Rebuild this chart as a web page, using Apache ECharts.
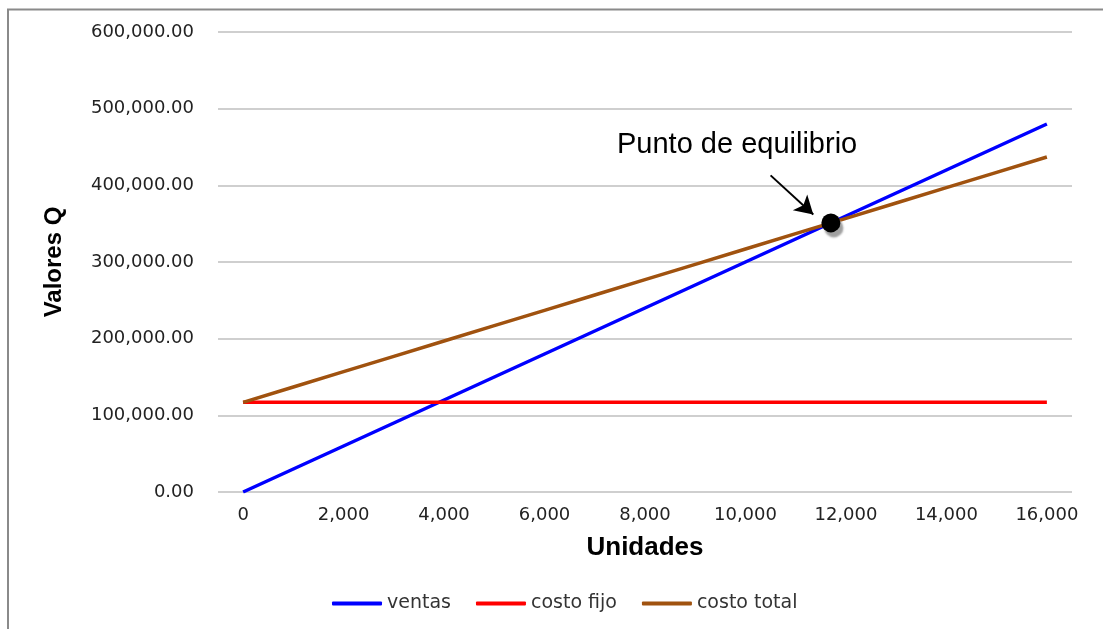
<!DOCTYPE html>
<html>
<head>
<meta charset="utf-8">
<script src="https://cdn.jsdelivr.net/npm/echarts@6/dist/echarts.min.js"></script>
<style>
  html, body { margin: 0; padding: 0; background: #ffffff; }
  #chart { width: 1103px; height: 629px; }
</style>
</head>
<body>
<div id="chart"></div>
<script>
// Units produced (category axis, every 1,000 units)
const unidades = [0, 1000, 2000, 3000, 4000, 5000, 6000, 7000, 8000, 9000, 10000,
                  11000, 12000, 13000, 14000, 15000, 16000];
// Sales revenue
const ventas = [0, 30000, 60000, 90000, 120000, 150000, 180000, 210000, 240000, 270000,
                300000, 330000, 360000, 390000, 420000, 450000, 480000];
// Fixed cost
const costoFijo = [117000, 117000, 117000, 117000, 117000, 117000, 117000, 117000, 117000,
                   117000, 117000, 117000, 117000, 117000, 117000, 117000, 117000];
// Total cost
const costoTotal = [117000, 137000, 157000, 177000, 197000, 217000, 237000, 257000, 277000,
                    297000, 317000, 337000, 357000, 377000, 397000, 417000, 437000];
// Break-even point [units, value]
const puntoEquilibrio = [11700, 351000];
// Annotation arrow, from label towards the break-even point
const flechaInicio = [10500, 413000];
const flechaFin = [11350, 362000];

const fmtMiles = v => Number(v).toLocaleString('en-US');
const fmtValor = v => Number(v).toLocaleString('en-US', { minimumFractionDigits: 2, maximumFractionDigits: 2 });

const chart = echarts.init(document.getElementById('chart'), null, { renderer: 'canvas' });

chart.setOption({
  backgroundColor: '#ffffff',
  animation: false,
  grid: { left: 218, right: 31, top: 32, bottom: 137, containLabel: false },
  legend: {
    bottom: 11,
    left: 327,
    icon: 'roundRect',
    itemWidth: 50,
    itemHeight: 4,
    itemGap: 25,
    textStyle: { fontFamily: 'DejaVu Sans', fontSize: 19, color: '#333333' },
    data: ['ventas', 'costo fijo', 'costo total']
  },
  xAxis: [
    {
      type: 'category',
      data: unidades,
      boundaryGap: true,
      name: 'Unidades',
      nameLocation: 'middle',
      nameGap: 43,
      nameTextStyle: { fontFamily: 'Liberation Sans', fontWeight: 'bold', fontSize: 26, color: '#000000' },
      axisLine: { show: false },
      axisTick: { show: false },
      splitLine: { show: false },
      axisLabel: {
        interval: 1,
        margin: 14,
        fontFamily: 'DejaVu Sans',
        fontSize: 18,
        color: '#222222',
        formatter: v => fmtMiles(v)
      }
    },
    {
      type: 'value',
      min: -500,
      max: 16500,
      show: false
    }
  ],
  yAxis: {
    type: 'value',
    min: 0,
    max: 600000,
    interval: 100000,
    name: 'Valores Q',
    nameLocation: 'middle',
    nameRotate: 90,
    nameGap: 152,
    nameTextStyle: { fontFamily: 'Liberation Sans', fontWeight: 'bold', fontSize: 24, color: '#000000' },
    axisLine: { show: false },
    axisTick: { show: false },
    splitLine: { lineStyle: { color: '#bfbfbf', width: 1.5 } },
    axisLabel: {
      margin: 24,
      fontFamily: 'DejaVu Sans',
      fontSize: 18,
      color: '#222222',
      formatter: v => fmtValor(v)
    }
  },
  series: [
    {
      name: 'ventas', type: 'line', data: ventas,
      symbol: 'none', color: '#0000ff',
      lineStyle: { width: 3.5, color: '#0000ff' }
    },
    {
      name: 'costo fijo', type: 'line', data: costoFijo,
      symbol: 'none', color: '#ff0000',
      lineStyle: { width: 3.5, color: '#ff0000' }
    },
    {
      name: 'costo total', type: 'line', data: costoTotal,
      symbol: 'none', color: '#a0520f',
      lineStyle: { width: 3.5, color: '#a0520f' }
    },
    {
      name: 'punto de equilibrio', type: 'scatter',
      xAxisIndex: 1,
      data: [puntoEquilibrio],
      symbol: 'circle', symbolSize: 19,
      z: 5,
      itemStyle: {
        color: '#000000',
        opacity: 1,
        shadowColor: 'rgba(150,150,150,0.9)',
        shadowBlur: 2,
        shadowOffsetX: 3,
        shadowOffsetY: 5
      },
      emphasis: { disabled: true },
      markLine: {
        silent: true,
        symbol: ['none', 'arrow'],
        symbolSize: [16, 18],
        label: { show: false },
        emphasis: { disabled: true },
        lineStyle: { color: '#000000', width: 2, type: 'solid', opacity: 1 },
        data: [[{ coord: flechaInicio }, { coord: flechaFin }]]
      }
    }
  ],
  graphic: [
    {
      type: 'text', left: 617, top: 130,
      style: { text: 'Punto de equilibrio', fontFamily: 'Liberation Sans', fontSize: 29, fill: '#000000' }
    },
    {
      type: 'line', shape: { x1: 7, y1: 9.5, x2: 1103, y2: 9.5 },
      style: { stroke: '#8a8a8a', lineWidth: 2 }
    },
    {
      type: 'line', shape: { x1: 8, y1: 9, x2: 8, y2: 629 },
      style: { stroke: '#8a8a8a', lineWidth: 2 }
    }
  ]
});
</script>
</body>
</html>
